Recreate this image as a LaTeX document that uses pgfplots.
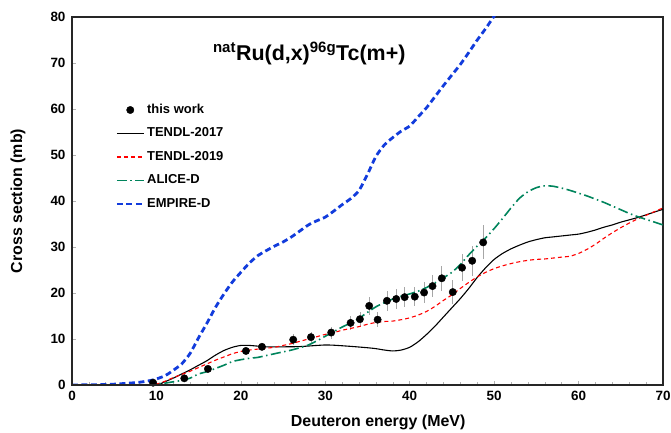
\documentclass[border=0pt]{standalone}
\usepackage{pgfplots}
\pgfplotsset{compat=1.18}
\usepackage{fontspec}
\setmainfont{Liberation Sans}
\definecolor{alicegreen}{RGB}{0,132,92}
\definecolor{empireblue}{RGB}{18,60,220}
\begin{document}
\begin{tikzpicture}
\begin{axis}[
  name=ax,
  scale only axis,
  width=591bp, height=368bp,
  xmin=0, xmax=70, ymin=0, ymax=80,
  xtick={0,10,...,70}, ytick={0,10,...,80},
  minor x tick num=4,
  tick align=inside,
  major tick length=4bp, minor tick length=3bp,
  tick style={gray!60, line width=0.6pt},
  xtick pos=bottom, ytick pos=left,
  axis line style={line width=1.1pt, black!85},
  tick label style={font=\bfseries\fontsize{13.5}{15}\selectfont},
  /pgf/number format/assume math mode=true,
  xticklabel shift={3bp}, yticklabel shift={3bp},
  xlabel={\bfseries Deuteron energy (MeV)},
  ylabel={\bfseries Cross section (mb)},
  label style={font=\bfseries\fontsize{16}{18}\selectfont},
  xlabel style={at={(axis description cs:0.518,-0.103)}, anchor=center},
  ylabel style={at={(axis description cs:-0.0914,0.5)}, anchor=center},
  clip=true,
  legend cell align=left,
  legend style={at={(0.068,0.777)}, anchor=north west, draw=none, fill=none,
    font=\bfseries\fontsize{13}{15}\selectfont, row sep=6bp,
    nodes={text height=10bp, text depth=3.5bp},
    /tikz/every even column/.append style={column sep=1bp}},
  legend image code/.code={\draw[mark repeat=2,mark phase=2,#1] plot coordinates {(0bp,0bp) (13.5bp,0bp) (27bp,0bp)};},
]
% this work
\addplot[only marks, mark=*, mark size=3.7bp, black,
  error bars/.cd, y dir=both, y explicit, error mark=none,
  error bar style={gray!70, line width=0.8pt}]
  table[x=x, y=y, y error=e] {
x y e
9.6 0.5 0.3
13.3 1.45 0.4
16.1 3.5 0.5
20.6 7.4 0.7
22.5 8.3 0.8
26.2 9.85 1.2
28.3 10.4 1.2
30.7 11.4 1.3
33.0 13.5 1.5
34.1 14.3 1.5
35.2 17.2 2.0
36.2 14.2 1.6
37.3 18.3 2.2
38.4 18.7 2.2
39.4 19.1 2.2
40.6 19.2 2.1
41.7 20.1 2.2
42.7 21.5 2.4
43.8 23.2 2.7
45.1 20.2 2.6
46.2 25.5 3.0
47.4 27.0 3.2
48.7 31.0 3.7
};
\addlegendentry{this work}
% TENDL-2017
\addplot[black, line width=1.1pt, smooth, tension=0.4, mark=none] coordinates {
(0,0)(10,0)(10.5,0.3)(11,0.7)(12,1.5)(13,2.4)(14,3.3)(15,4.3)(16,5.3)(17,6.5)(18,7.5)(19,8.2)(20,8.6)(21,8.6)(22,8.45)(23,8.3)(25,8.3)(27,8.35)(29,8.6)(30,8.7)(31,8.65)(33,8.4)(35,8.1)(36,7.9)(37,7.6)(38,7.4)(39,7.6)(40,8.2)(41,9.4)(42,11.0)(43,12.8)(44,14.8)(45,16.8)(46,18.8)(47,21.0)(48,23.4)(49,25.5)(50,27.3)(51,28.6)(52,29.6)(53,30.4)(54,31.1)(55,31.6)(56,32.0)(57,32.2)(58,32.4)(59,32.6)(60,32.8)(61,33.2)(62,33.7)(63,34.3)(64,34.8)(65,35.4)(66,35.9)(67,36.4)(68,37.0)(69,37.6)(70,38.2)
};
\addlegendentry{TENDL-2017}
% TENDL-2019
\addplot[color=red, line width=1.1pt, dash pattern=on 4bp off 3bp, smooth, tension=0.4, mark=none] coordinates {
(0,0)(9,0)(10,0.2)(11,0.8)(12,1.6)(13,2.3)(14,3.0)(15,3.8)(16,4.6)(17,5.4)(18,6.1)(19,6.8)(20,7.3)(21,7.6)(22,7.8)(23,8.0)(24,8.2)(25,8.6)(26,9.0)(27,9.5)(28,10.0)(29,10.5)(30,11.0)(31,11.4)(32,11.9)(33,12.3)(34,12.7)(35,13.2)(36,13.6)(37,13.8)(38,13.9)(39,14.2)(40,14.6)(41,15.2)(42,16.0)(43,17.1)(44,18.4)(45,19.6)(46,21.0)(47,22.3)(48,23.5)(49,24.5)(50,25.3)(51,25.9)(52,26.4)(53,26.8)(54,27.1)(55,27.3)(56,27.4)(57,27.6)(58,27.8)(59,28.0)(60,28.6)(61,29.5)(62,30.6)(63,31.9)(64,33.1)(65,34.2)(66,35.2)(67,36.1)(68,36.9)(69,37.7)(70,38.5)
};
\addlegendentry{TENDL-2019}
% ALICE-D
\addplot[color=alicegreen, line width=1.6pt, dash pattern=on 10bp off 3.5bp on 1.5bp off 3.5bp, smooth, tension=0.4, mark=none] coordinates {
(0,0)(9,0)(10,0.2)(11,0.4)(12,0.7)(13,1.0)(14,1.5)(15,2.4)(16,2.9)(17,3.6)(18,4.3)(19,5.1)(20,5.5)(21,5.8)(22,6.0)(23,6.4)(24,6.8)(25,7.2)(26,7.6)(27,8.1)(28,8.7)(29,9.6)(30,10.6)(31,11.6)(32,12.6)(33,13.5)(34,14.5)(35,15.8)(36,17.0)(37,17.9)(38,18.7)(39,19.3)(40,19.8)(41,20.4)(42,21.2)(43,22.2)(44,23.3)(45,24.5)(46,26.2)(47,28.3)(48,30.2)(49,32.0)(50,34.0)(51,36.2)(52,38.5)(53,40.6)(54,42.0)(55,42.9)(56,43.3)(57,43.2)(58,42.8)(59,42.3)(60,41.7)(61,41.1)(62,40.4)(63,39.7)(64,38.9)(65,38.1)(66,37.3)(67,36.6)(68,36.0)(69,35.4)(70,34.8)
};
\addlegendentry{ALICE-D}
% EMPIRE-D
\addplot[color=empireblue, line width=2.8pt, dash pattern=on 6bp off 3.5bp, smooth, tension=0.4, mark=none] coordinates {
(0,0)(4,0.1)(6,0.3)(8,0.6)(9.6,1.1)(11,2.0)(12,3.2)(13,4.6)(14,6.9)(15,10.3)(16,13.5)(17,16.9)(18,19.8)(19,22.4)(20,24.5)(21,26.5)(22,28.1)(23,29.2)(24,30.2)(25,31.1)(26,32.2)(27,33.5)(28,34.8)(29,35.7)(30,36.5)(31,37.8)(32,39.2)(33,40.5)(34,42.3)(35,45.8)(36,49.7)(37,52.2)(38,53.8)(39,55.2)(40,56.3)(41,58.3)(42,60.3)(43,62.7)(44,65.1)(45,67.4)(46,69.7)(47,72.3)(48,75.0)(49,77.5)(50,80.2)(51,83.0)
};
\addlegendentry{EMPIRE-D}
\node[anchor=base, font=\bfseries\fontsize{21.5}{24}\selectfont] at (axis cs:28.1,70.6)
  {\textsuperscript{nat}Ru(d,x)\textsuperscript{96g}Tc(m+)};
\end{axis}
\draw[line width=2pt, black!85] (ax.south west) -- (ax.north west);
\draw[line width=2pt, black!85] (ax.south west) -- (ax.south east);
\pgfresetboundingbox
\path[use as bounding box] ([xshift=-72bp,yshift=-48bp]ax.south west) rectangle ([xshift=8bp,yshift=17bp]ax.north east);
\end{tikzpicture}
\end{document}
